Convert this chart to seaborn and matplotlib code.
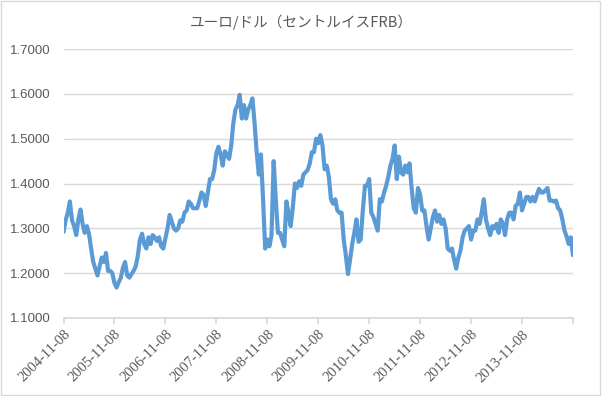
import pandas as pd
import matplotlib.pyplot as plt
import seaborn as sns
from matplotlib.ticker import FormatStrFormatter
from matplotlib.patches import Rectangle

# 半月ごとのレート (2004-11-08 ～ 2014-11-07)
rate_2005 = [1.292, 1.318, 1.335, 1.360, 1.318, 1.305, 1.285, 1.320, 1.342, 1.310, 1.290, 1.305,
             1.288, 1.255, 1.225, 1.210, 1.195, 1.215, 1.235, 1.225, 1.245, 1.205, 1.205, 1.200]
rate_2006 = [1.178, 1.168, 1.180, 1.190, 1.212, 1.225, 1.195, 1.190, 1.198, 1.205, 1.215, 1.238,
             1.275, 1.288, 1.265, 1.255, 1.280, 1.265, 1.285, 1.280, 1.272, 1.280, 1.260, 1.255]
rate_2007 = [1.278, 1.300, 1.330, 1.315, 1.300, 1.295, 1.300, 1.318, 1.315, 1.335, 1.340, 1.360,
             1.355, 1.345, 1.345, 1.345, 1.362, 1.380, 1.375, 1.350, 1.380, 1.410, 1.410, 1.430]
rate_2008 = [1.468, 1.482, 1.465, 1.440, 1.472, 1.465, 1.455, 1.485, 1.535, 1.565, 1.575, 1.598,
             1.545, 1.575, 1.545, 1.565, 1.575, 1.590, 1.535, 1.470, 1.420, 1.465, 1.365, 1.255]
rate_2009 = [1.275, 1.260, 1.285, 1.450, 1.365, 1.290, 1.290, 1.275, 1.260, 1.360, 1.335, 1.305,
             1.345, 1.400, 1.390, 1.405, 1.395, 1.420, 1.425, 1.430, 1.445, 1.470, 1.470, 1.500]
rate_2010 = [1.490, 1.508, 1.485, 1.432, 1.440, 1.415, 1.365, 1.355, 1.365, 1.340, 1.335, 1.335,
             1.275, 1.240, 1.198, 1.230, 1.265, 1.290, 1.320, 1.270, 1.275, 1.340, 1.395, 1.395]
rate_2011 = [1.410, 1.335, 1.325, 1.310, 1.295, 1.365, 1.360, 1.380, 1.395, 1.415, 1.440, 1.455,
             1.485, 1.410, 1.460, 1.425, 1.420, 1.440, 1.425, 1.445, 1.390, 1.345, 1.335, 1.390]
rate_2012 = [1.375, 1.340, 1.340, 1.305, 1.275, 1.300, 1.325, 1.340, 1.315, 1.330, 1.310, 1.320,
             1.300, 1.255, 1.250, 1.255, 1.230, 1.210, 1.235, 1.250, 1.280, 1.295, 1.300, 1.305]
rate_2013 = [1.275, 1.295, 1.295, 1.320, 1.310, 1.335, 1.365, 1.320, 1.300, 1.285, 1.305, 1.300,
             1.310, 1.290, 1.320, 1.310, 1.285, 1.320, 1.335, 1.335, 1.320, 1.350, 1.355, 1.380]
rate_2014 = [1.340, 1.355, 1.370, 1.370, 1.360, 1.370, 1.360, 1.375, 1.388, 1.380, 1.380, 1.385,
             1.390, 1.362, 1.362, 1.360, 1.362, 1.345, 1.340, 1.320, 1.295, 1.282, 1.265, 1.280,
             1.240]

rates = rate_2005 + rate_2006 + rate_2007 + rate_2008 + rate_2009 + rate_2010 + \
    rate_2011 + rate_2012 + rate_2013 + rate_2014
tick_labels = [f"{y}-11-08" for y in range(2004, 2014)]

df = pd.DataFrame({
    "date": pd.date_range("2004-11-08", "2014-11-07", periods=len(rates)),
    "rate": rates,
})

sns.set_theme(style="white")
plt.rcParams["font.family"] = ["Liberation Sans", "Noto Sans CJK JP", "DejaVu Sans"]

fig = plt.figure(figsize=(6.02, 3.96), dpi=100)
ax = fig.add_axes([0.1055, 0.197, 0.8465, 0.679])

sns.lineplot(data=df, x="date", y="rate", ax=ax, color="#5B9BD5", linewidth=3.0)

ax.set_xlim(pd.Timestamp("2004-11-08"), pd.Timestamp("2014-11-08"))
ax.set_ylim(1.1, 1.7)
ax.set_yticks([1.1, 1.2, 1.3, 1.4, 1.5, 1.6, 1.7])
ax.yaxis.set_major_formatter(FormatStrFormatter("%.4f"))
ax.grid(axis="y", color="#D9D9D9", linewidth=1)
ax.set_axisbelow(True)

# 年ごとの目盛り (最後は右端の目盛りのみ)
ticks = [pd.Timestamp(t) for t in tick_labels] + [pd.Timestamp("2014-11-08")]
ax.set_xticks(ticks)
ax.set_xticklabels(tick_labels + [""], rotation=45, ha="right", rotation_mode="anchor",
                   family="Liberation Serif", fontsize=10.5, color="#595959")
ax.tick_params(axis="x", length=4, color="#D9D9D9", direction="out", pad=3, bottom=True)
ax.tick_params(axis="y", length=0, labelsize=9.5, labelcolor="#595959", pad=9)

for side in ["top", "right", "left"]:
    ax.spines[side].set_visible(False)
ax.spines["bottom"].set_color("#D9D9D9")
ax.set_xlabel("")
ax.set_ylabel("")

fig.text(0.5, 1 - 22 / 396, "ユーロ/ドル（セントルイスFRB）", ha="center", va="center",
         fontsize=10.5, color="#595959", family=["Noto Sans CJK JP", "DejaVu Sans"])

fig.patches.append(Rectangle((0.002, 0.003), 0.995, 0.994, transform=fig.transFigure,
                             fill=False, edgecolor="#D9D9D9", linewidth=1))

fig.savefig("out.png", dpi=100)
